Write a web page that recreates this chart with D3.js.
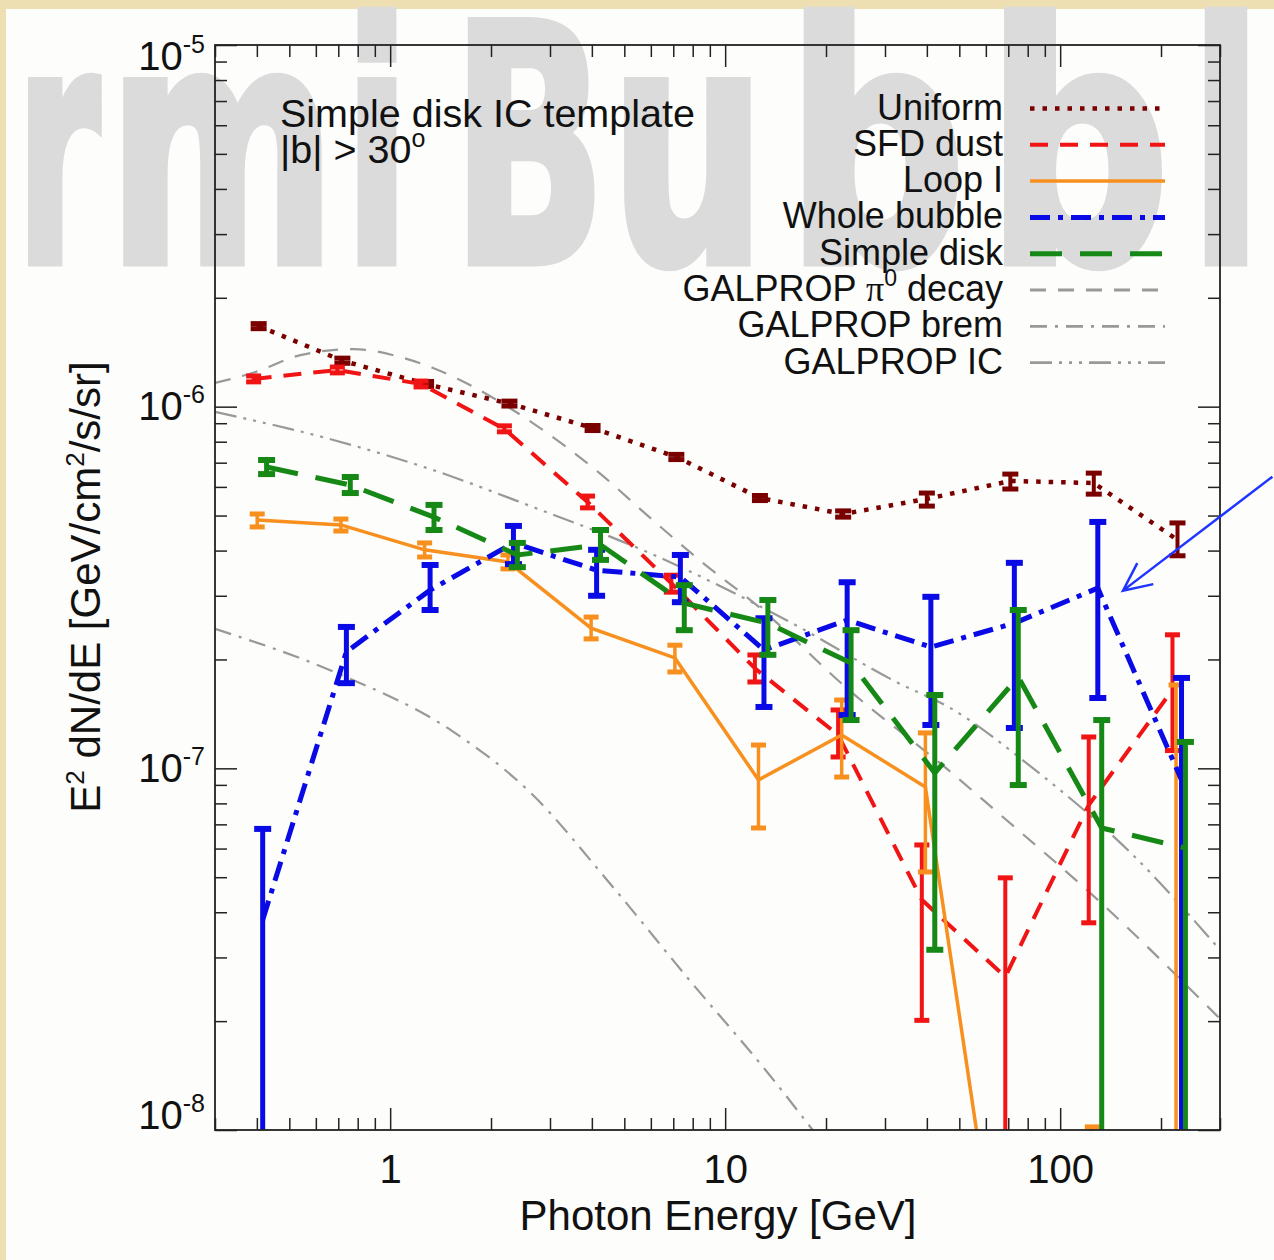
<!DOCTYPE html>
<html>
<head>
<meta charset="utf-8">
<script src="https://d3js.org/d3.v7.min.js"></script>
<style>
body{margin:0;background:#eedfb3;}
svg{display:block;}
text{font-family:"Liberation Sans",Arial,Helvetica,sans-serif;fill:#111;}
</style>
</head>
<body>
<svg id="chart" width="1274" height="1260"></svg>
<script>
/*
 spectra of the templates, |b|>30, simple disk IC template
 */

// energy bin centres [GeV]
var energy=[0.405,0.72,1.28,2.27,4.02,7.15,12.7,22.5,40,71,126,224];

var uniformVal=[1.67e-6,1.34e-6,1.155e-6,1.02e-6,8.73e-7,7.26e-7,5.59e-7,5.05e-7,5.56e-7,6.23e-7,6.15e-7,4.28e-7];
var uniformLo=[1.643e-6,1.318e-6,1.137e-6,1.004e-6,8.59e-7,7.14e-7,5.50e-7,4.95e-7,5.31e-7,5.92e-7,5.73e-7,3.87e-7];
var uniformHi=[1.697e-6,1.362e-6,1.174e-6,1.036e-6,8.87e-7,7.38e-7,5.68e-7,5.15e-7,5.77e-7,6.51e-7,6.55e-7,4.77e-7];

var sfdVal=[1.193e-6,1.263e-6,1.155e-6,8.68e-7,5.45e-7,3.25e-7,1.89e-7,1.237e-7,4.33e-8,2.65e-8,7.92e-8,1.65e-7];
var sfdLo=[1.171e-6,1.24e-6,1.134e-6,8.52e-7,5.25e-7,3.07e-7,1.733e-7,1.075e-7,2.01e-8,5e-9,3.74e-8,1.12e-7];
var sfdHi=[1.216e-6,1.287e-6,1.177e-6,8.85e-7,5.66e-7,3.42e-7,2.058e-7,1.45e-7,6.14e-8,4.98e-8,1.221e-7,2.34e-7];

var loopVal=[4.86e-7,4.71e-7,4.02e-7,3.72e-7,2.44e-7,2.02e-7,9.29e-8,1.237e-7,8.88e-8,2.5e-9,3e-9,4e-9];
var loopLo=[4.65e-7,4.53e-7,3.84e-7,3.56e-7,2.28e-7,1.847e-7,6.84e-8,9.46e-8,5.17e-8,1e-9,1e-9,1e-9];
var loopHi=[5.05e-7,4.89e-7,4.20e-7,3.89e-7,2.62e-7,2.19e-7,1.16e-7,1.545e-7,1.253e-7,4e-9,1.02e-8,1.70e-7];

var bubbleVal=[3.81e-8,2.10e-7,3.11e-7,4.20e-7,3.53e-7,3.38e-7,2.125e-7,2.57e-7,2.165e-7,2.52e-7,3.15e-7,9.29e-8];
var bubbleLo=[5e-9,1.72e-7,2.74e-7,3.67e-7,3.0e-7,2.88e-7,1.478e-7,1.404e-7,1.318e-7,1.293e-7,1.565e-7,5e-9];
var bubbleHi=[6.80e-8,2.46e-7,3.65e-7,4.68e-7,4.02e-7,3.89e-7,2.60e-7,3.27e-7,2.98e-7,3.70e-7,4.80e-7,1.778e-7];

var diskVal=[6.81e-7,6.07e-7,4.95e-7,3.89e-7,4.15e-7,2.86e-7,2.52e-7,1.955e-7,9.71e-8,1.789e-7,6.84e-8,6.02e-8];
var diskLo=[6.51e-7,5.77e-7,4.56e-7,3.60e-7,3.77e-7,2.41e-7,2.06e-7,1.36e-7,3.15e-8,8.99e-8,5e-9,5e-9];
var diskHi=[7.12e-7,6.39e-7,5.35e-7,4.20e-7,4.56e-7,3.21e-7,2.92e-7,2.41e-7,1.595e-7,2.74e-7,1.36e-7,1.183e-7];

// GALPROP model curves
var pi0E=[0.3,0.3965,0.54,0.776,1.071,1.343,1.616,2.666,4.217,5.94,8.37,12.63,23.4,46.4,65.4,129.8,300];
var pi0Val=[1.163e-6,1.247e-6,1.389e-6,1.443e-6,1.372e-6,1.279e-6,1.185e-6,9.01e-7,6.55e-7,4.95e-7,3.77e-7,2.79e-7,1.647e-7,9.89e-8,7.52e-8,4.32e-8,2.03e-8];
var bremE=[0.3,0.6813,1.529,2.628,4.516,7.76,13.34,19.05,22];
var bremVal=[2.43e-7,1.847e-7,1.269e-7,8.55e-8,4.82e-8,2.62e-8,1.447e-8,9.5e-9,8e-9];
var icE=[0.3,0.6767,1.343,2.666,5.94,15.83,32.95,46.4,82,162.7,300];
var icVal=[9.67e-7,8.09e-7,6.68e-7,5.28e-7,3.94e-7,2.52e-7,1.72e-7,1.478e-7,1.009e-7,5.83e-8,3.15e-8];

var xTickLabels=[1,10,100];
var yTickLabels=[1e-8,1e-7,1e-6,1e-5];

// annotation arrow (tail, tip) in data units
var arrowFrom=[430,6.4e-7];
var arrowTo=[154,3.1e-7];

var svg=d3.select("#chart");
var space={width:1274,height:1260,left:215,right:1220,top:45,bottom:1130};

var x=d3.scaleLog().domain([0.3,300]).range([space.left,space.right]);
var y=d3.scaleLog().domain([1e-8,1e-5]).range([space.bottom,space.top]);

// paper background
svg.append("rect").attr("width",space.width).attr("height",space.height).attr("fill","#eedfb3");
svg.append("rect").attr("x",6).attr("y",9).attr("width",space.width-6).attr("height",space.height-9).attr("fill","#fdfdfb");

// slide watermark, letter by letter ("...rmi Bubbl...")
var markLetters=[["r",16,100],["m",108,336],["i",344,410],["B",452,606],["u",610,766],["b",786,966],["b",986,1170],["l",1190,1262]];
svg.append("g").selectAll("text").data(markLetters).join("text")
    .attr("x",function(d){return d[1]}).attr("y",262)
    .attr("textLength",function(d){return d[2]-d[1]}).attr("lengthAdjust","spacingAndGlyphs")
    .style("font-family","'DejaVu Sans','DejaVu Sans Condensed',sans-serif")
    .style("font-weight","bold")
    .style("font-size","330px").style("fill","#dbdbdb")
    .style("stroke","#dbdbdb").style("stroke-width",9).style("stroke-linejoin","miter")
    .text(function(d){return d[0]});

svg.append("clipPath").attr("id","plotClip")
    .append("rect").attr("x",space.left).attr("y",space.top)
    .attr("width",space.right-space.left).attr("height",space.bottom-space.top);

var plotG=svg.append("g").attr("clip-path","url(#plotClip)");

var gray="#999999";
var models=[
    {name:"GALPROP \u03c0",sup:"0",tail:" decay",e:pi0E,v:pi0Val,dash:"16 12"},
    {name:"GALPROP brem",e:bremE,v:bremVal,dash:"17 8 3 8"},
    {name:"GALPROP IC",e:icE,v:icVal,dash:"22 7 3 7 3 7 3 7"}
];
var curve=d3.line().curve(d3.curveMonotoneX)
    .x(function(d){return x(d[0])})
    .y(function(d){return y(d[1])});
models.forEach(function(m){
    plotG.append("path")
        .datum(m.e.map(function(e,i){return [e,m.v[i]]}))
        .attr("d",curve)
        .attr("fill","none").attr("stroke",gray).attr("stroke-width",2.2)
        .attr("stroke-dasharray",m.dash);
});

var series=[
    {name:"Uniform",val:uniformVal,lo:uniformLo,hi:uniformHi,shift:1.0,color:"#7a0000",width:4.5,dash:"4.5 8",barW:4,capW:16,capH:5},
    {name:"SFD dust",val:sfdVal,lo:sfdLo,hi:sfdHi,shift:0.966,color:"#f01414",width:4,dash:"18 12",barW:4,capW:15,capH:5},
    {name:"Loop I",val:loopVal,lo:loopLo,hi:loopHi,shift:0.99,color:"#f7901e",width:3.5,dash:null,barW:3.5,capW:15,capH:5},
    {name:"Whole bubble",val:bubbleVal,lo:bubbleLo,hi:bubbleHi,shift:1.028,color:"#0a0ae6",width:5,dash:"20 8 5 8",barW:5,capW:17,capH:6},
    {name:"Simple disk",val:diskVal,lo:diskLo,hi:diskHi,shift:1.056,color:"#168816",width:5,dash:"32 18",barW:5,capW:17,capH:6}
];

var dataLine=d3.line()
    .x(function(d){return x(d.e)})
    .y(function(d){return y(d.v)});

series.forEach(function(s){
    var pts=energy.map(function(e,i){
        return {e:e*s.shift,v:s.val[i],lo:s.lo[i],hi:s.hi[i]};
    });
    var g=plotG.append("g");
    g.append("path").datum(pts).attr("d",dataLine)
        .attr("fill","none").attr("stroke",s.color).attr("stroke-width",s.width)
        .attr("stroke-dasharray",s.dash);
    var bars=g.selectAll(".err").data(pts).join("g").attr("class","err")
        .attr("stroke",s.color);
    bars.append("line")
        .attr("x1",function(d){return x(d.e)}).attr("x2",function(d){return x(d.e)})
        .attr("y1",function(d){return y(d.hi)}).attr("y2",function(d){return y(d.lo)})
        .attr("stroke-width",s.barW);
    ["hi","lo"].forEach(function(k){
        bars.append("line")
            .attr("x1",function(d){return x(d.e)-s.capW/2}).attr("x2",function(d){return x(d.e)+s.capW/2})
            .attr("y1",function(d){return y(d[k])}).attr("y2",function(d){return y(d[k])})
            .attr("stroke-width",s.capH);
    });
});

// ticks on all four sides, pointing inwards
function decadeTicks(lo,hi,minor){
    var out=[];
    for(var p=lo;p<=hi;p++){
        for(var m=1;m<10;m++){
            var v=m*Math.pow(10,p);
            if((m===1)!==minor) out.push(+v.toPrecision(3));
        }
    }
    return out;
}
var xMinor=decadeTicks(-1,2,true).filter(function(v){return v>=0.3&&v<=300});
var yMinor=decadeTicks(-8,-6,true);

function tickAxis(axis,scale,values,size,tx,ty){
    var g=svg.append("g").attr("transform","translate("+tx+","+ty+")")
        .call(axis(scale).tickValues(values).tickSize(-size).tickSizeOuter(0).tickFormat(""));
    g.select(".domain").remove();
    g.selectAll(".tick line").attr("stroke","#222").attr("stroke-width",1.5);
    return g;
}
tickAxis(d3.axisTop,x,xMinor,12,0,space.top);
tickAxis(d3.axisTop,x,xTickLabels,22,0,space.top);
tickAxis(d3.axisRight,y,yMinor,12,space.right,0);
tickAxis(d3.axisRight,y,yTickLabels,22,space.right,0);
tickAxis(d3.axisBottom,x,xMinor,12,0,space.bottom);
tickAxis(d3.axisLeft,y,yMinor,12,space.left,0);

var xAxisG=svg.append("g").attr("transform","translate(0,"+space.bottom+")")
    .call(d3.axisBottom(x).tickValues(xTickLabels).tickSize(-22).tickSizeOuter(0).tickPadding(25).tickFormat(d3.format("d")));
xAxisG.select(".domain").remove();
xAxisG.attr("font-size",40);
xAxisG.selectAll(".tick line").attr("stroke","#222").attr("stroke-width",1.5);
xAxisG.selectAll(".tick text").attr("fill","#111");

var yAxisG=svg.append("g").attr("transform","translate("+space.left+",0)")
    .call(d3.axisLeft(y).tickValues(yTickLabels).tickSize(-22).tickSizeOuter(0).tickPadding(10).tickFormat(""));
yAxisG.select(".domain").remove();
yAxisG.attr("font-size",40);
yAxisG.selectAll(".tick line").attr("stroke","#222").attr("stroke-width",1.5);
yAxisG.selectAll(".tick text").each(function(d){
    var t=d3.select(this).attr("fill","#111");
    var shift=d===1e-8?-14:(d===1e-5?12:0);
    t.attr("dy",(0.32*40+shift)+"px");
    t.append("tspan").text("10");
    t.append("tspan").attr("dy","-17px").attr("font-size","25px").text(Math.round(Math.log10(d)));
});

svg.append("rect")
    .attr("x",space.left).attr("y",space.top)
    .attr("width",space.right-space.left).attr("height",space.bottom-space.top)
    .attr("fill","none").attr("stroke","#222").attr("stroke-width",1.8);

// axis titles
svg.append("text").attr("x",718).attr("y",1230).attr("text-anchor","middle")
    .style("font-size","42px").text("Photon Energy [GeV]");

var yTitle=svg.append("text").attr("transform","translate(100,587) rotate(-90)")
    .attr("text-anchor","middle").style("font-size","42px");
yTitle.append("tspan").text("E");
yTitle.append("tspan").attr("dy","-16px").style("font-size","26px").text("2");
yTitle.append("tspan").attr("dy","16px").text(" dN/dE [GeV/cm");
yTitle.append("tspan").attr("dy","-16px").style("font-size","26px").text("2");
yTitle.append("tspan").attr("dy","16px").text("/s/sr]");

// panel title
svg.append("text").attr("x",280).attr("y",127).style("font-size","39.5px").text("Simple disk IC template");
var sub=svg.append("text").attr("x",280).attr("y",163).style("font-size","39.5px");
sub.append("tspan").text("|b| > 30");
sub.append("tspan").attr("dy","-16px").style("font-size","25px").text("o");

// legend
var legendRows=series.map(function(s){return {name:s.name,color:s.color,width:s.width,dash:s.dash}})
    .concat(models.map(function(m){return {name:m.name,sup:m.sup,tail:m.tail,color:gray,width:2.8,dash:m.dash}}));
var legendG=svg.append("g");
var rows=legendG.selectAll("g").data(legendRows).join("g")
    .attr("transform",function(d,i){return "translate(0,"+(119.5+i*36.3)+")"});
rows.each(function(d){
    var t=d3.select(this).append("text").attr("x",1003).attr("text-anchor","end").style("font-size","36px");
    if(d.sup){
        t.append("tspan").text("GALPROP ");
        t.append("tspan").style("font-family","'Liberation Serif',serif").text("\u03c0");
        t.append("tspan").attr("dy","-15px").style("font-size","23px").text(d.sup);
        t.append("tspan").attr("dy","15px").text(d.tail);
    } else {
        t.text(d.name);
    }
});
rows.append("line")
    .attr("x1",1030).attr("x2",1165).attr("y1",-11).attr("y2",-11)
    .attr("stroke",function(d){return d.color})
    .attr("stroke-width",function(d){return d.width})
    .attr("stroke-dasharray",function(d){return d.dash});

// annotation arrow pointing at the whole-bubble point
var ax1=x(arrowFrom[0]),ay1=y(arrowFrom[1]),ax2=x(arrowTo[0]),ay2=y(arrowTo[1]);
var ang=Math.atan2(ay1-ay2,ax1-ax2),headLen=31,spread=0.44;
var arrowPath="M"+ax1+","+ay1+"L"+ax2+","+ay2+
    "M"+(ax2+headLen*Math.cos(ang-spread))+","+(ay2+headLen*Math.sin(ang-spread))+
    "L"+ax2+","+ay2+
    "L"+(ax2+headLen*Math.cos(ang+spread))+","+(ay2+headLen*Math.sin(ang+spread));
svg.append("path").attr("d",arrowPath).attr("fill","none")
    .attr("stroke","#1f35ff").attr("stroke-width",2.5).attr("stroke-linejoin","miter");
</script>
</body>
</html>
